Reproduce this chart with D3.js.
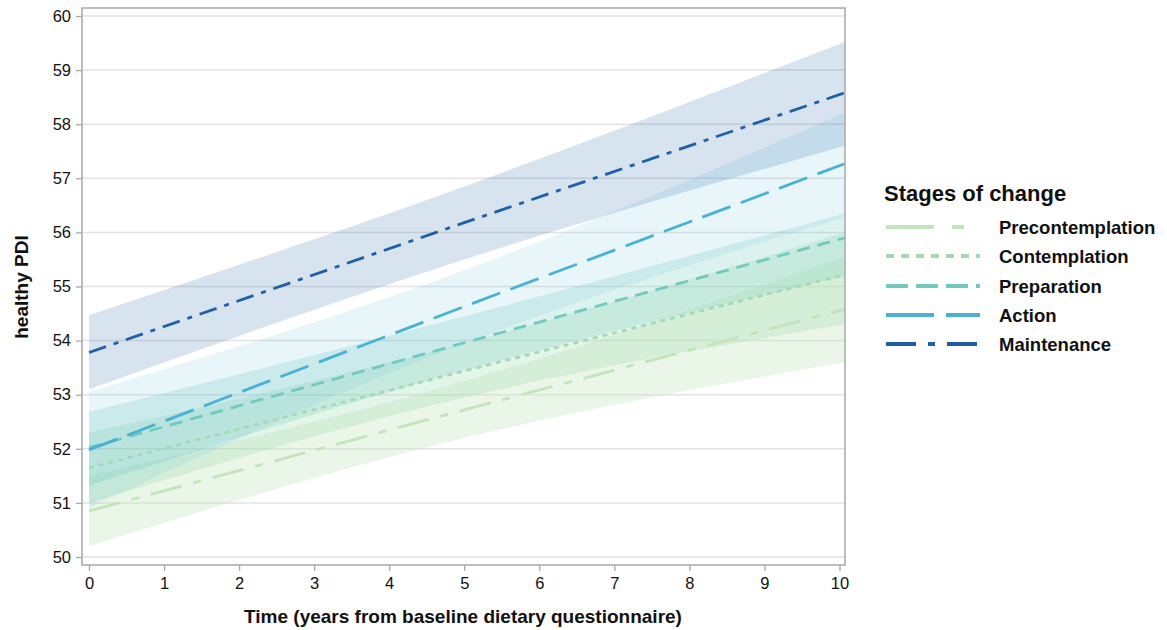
<!DOCTYPE html>
<html><head><meta charset="utf-8">
<script src="https://cdn.jsdelivr.net/npm/d3@7"></script>
<style>
body{margin:0;background:#fff;}
text{font-family:"Liberation Sans",Arial,sans-serif;}
</style></head>
<body><svg id="c" width="1167" height="630"></svg>
<script>
// ---- data ----
const stages = ["Precontemplation","Contemplation","Preparation","Action","Maintenance"];
const times = [0, 5, 10.07];
const estPre   = [50.85, 52.72, 54.58];
const estCon   = [51.65, 53.44, 55.22];
const estPrep  = [52.02, 53.96, 55.90];
const estAct   = [51.98, 54.63, 57.27];
const estMaint = [53.78, 56.18, 58.58];
const loPre   = [50.20, 52.20, 53.60], hiPre   = [51.50, 53.25, 55.55];
const loCon   = [51.00, 52.95, 54.30], hiCon   = [52.30, 53.95, 56.00];
const loPrep  = [51.32, 53.45, 55.20], hiPrep  = [52.68, 54.45, 56.35];
const loAct   = [50.91, 53.95, 56.28], hiAct   = [53.05, 55.30, 58.21];
const loMaint = [53.10, 55.50, 57.60], hiMaint = [54.47, 56.85, 59.52];
const xTicks = [0,1,2,3,4,5,6,7,8,9,10];
const yTicks = [50,51,52,53,54,55,56,57,58,59,60];

const colors = ["#c2e5bb","#a3dab5","#72cabf","#48b1d4","#1f5fa6"];
const bandColors = ["#c2e5bb","#a3dab5","#72cabf","#5cc0dc","#1f5fa6"];
const bandOpacity = [0.35,0.30,0.25,0.14,0.175];
const dashes = ["32,12,8,12","5,5","13,8","30,11","18,8,5,8"];
const legendDashes = ["48,18,12,18","8,7","22,8","48,12","30,12,7,12"];
const ests = [estPre,estCon,estPrep,estAct,estMaint];
const los = [loPre,loCon,loPrep,loAct,loMaint];
const his = [hiPre,hiCon,hiPrep,hiAct,hiMaint];

const svg = d3.select("#c");
const L=82,R=845,T=8,B=565;
const x = d3.scaleLinear().domain([0,10]).range([89,839.5]);
const y = d3.scaleLinear().domain([50,60]).range([557,16]);

// gridlines
svg.append("g").selectAll("line").data(yTicks).join("line")
  .attr("x1",L).attr("x2",R).attr("y1",d=>y(d)).attr("y2",d=>y(d))
  .attr("stroke","#e3e3e3").attr("stroke-width",1.5);

// bands
const area = d3.area().x(d=>x(d.t)).y0(d=>y(d.lo)).y1(d=>y(d.hi)).curve(d3.curveNatural);
stages.forEach((s,i)=>{
  const pts = times.map((t,j)=>({t,lo:los[i][j],hi:his[i][j]}));
  svg.append("path").attr("d",area(pts)).attr("fill",bandColors[i]).attr("fill-opacity",bandOpacity[i]);
});
// lines
const line = d3.line().x(d=>x(d.t)).y(d=>y(d.v));
stages.forEach((s,i)=>{
  const pts = times.map((t,j)=>({t,v:ests[i][j]}));
  svg.append("path").attr("d",line(pts)).attr("fill","none").attr("stroke",colors[i])
    .attr("stroke-width",2.8).attr("stroke-dasharray",dashes[i]);
});

// frame
svg.append("rect").attr("x",L).attr("y",T).attr("width",R-L).attr("height",B-T)
  .attr("fill","none").attr("stroke","#a8a8a8").attr("stroke-width",1.5);

// axes
const yAx = svg.append("g").attr("transform",`translate(${L},0)`)
  .call(d3.axisLeft(y).tickValues(yTicks).tickSize(6).tickPadding(5).tickFormat(d3.format("d")));
const xAx = svg.append("g").attr("transform",`translate(0,${B})`)
  .call(d3.axisBottom(x).tickValues(xTicks).tickSize(6).tickPadding(6).tickFormat(d3.format("d")));
[yAx,xAx].forEach(a=>{
  a.select(".domain").remove();
  a.selectAll("line").attr("stroke","#a8a8a8").attr("stroke-width",1.3);
  a.selectAll("text").attr("font-family","'Liberation Sans',Arial,sans-serif").attr("font-size",16.5).attr("fill","#111");
});

// axis titles
svg.append("text").attr("x",463).attr("y",623).attr("text-anchor","middle")
  .attr("font-size",19).attr("font-weight","bold").attr("fill","#111")
  .text("Time (years from baseline dietary questionnaire)");
svg.append("text").attr("transform","translate(28,287) rotate(-90)").attr("text-anchor","middle")
  .attr("font-size",19).attr("font-weight","bold").attr("fill","#111").text("healthy PDI");

// legend
const lg = svg.append("g");
lg.append("text").attr("x",884).attr("y",201).attr("font-size",22).attr("font-weight","bold").attr("fill","#111").text("Stages of change");
const ly = [227,256,286,315,344];
stages.forEach((s,i)=>{
  lg.append("line").attr("x1",886).attr("x2",980).attr("y1",ly[i]).attr("y2",ly[i])
    .attr("stroke",colors[i]).attr("stroke-width",4).attr("stroke-dasharray",legendDashes[i]);
  lg.append("text").attr("x",999).attr("y",ly[i]+6.5).attr("font-size",18.5).attr("font-weight","bold").attr("fill","#111").text(s);
});
</script></body></html>
